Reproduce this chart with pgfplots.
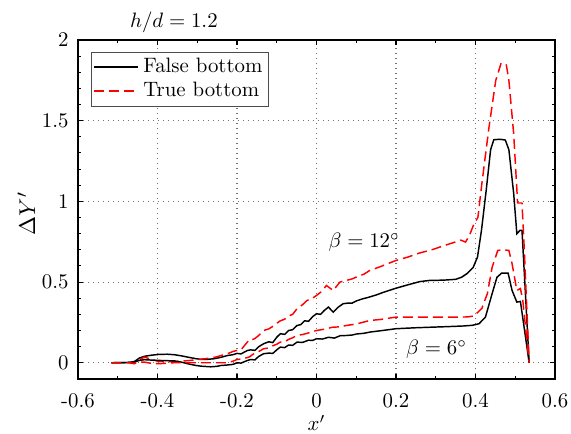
\documentclass[border=0pt]{standalone}
\usepackage{pgfplots}
\pgfplotsset{compat=1.18}
\usetikzlibrary{calc}
\begin{document}
\begin{tikzpicture}
\begin{axis}[
  scale only axis,
  width=229pt, height=162.7pt,
  xmin=-0.6, xmax=0.6, ymin=-0.1, ymax=2,
  xtick={-0.6,-0.4,-0.2,0,0.2,0.4,0.6},
  xticklabels={-0.6,-0.4,-0.2,0,0.2,0.4,0.6},
  ytick={0,0.5,1,1.5,2},
  yticklabels={0,0.5,1,1.5,2},
  minor x tick num=1, minor y tick num=4,
  tick align=inside,
  major tick length=2.4pt, minor tick length=1.5pt,
  tick style={black, line width=0.5pt},
  axis line style={black, line width=0.6pt},
  grid=major,
  major grid style={dotted, black!55, line width=0.5pt},
  xticklabel style={yshift=-3.4pt},
  yticklabel style={xshift=-1pt},
  every axis x label/.style={at={(axis description cs:0.5,0)}, anchor=center, yshift=-21.1pt},
  every axis y label/.style={at={(axis description cs:-0.108,0.488)}, rotate=90, anchor=center},
  xlabel={$x'$},
  ylabel={\fontsize{11}{13}\selectfont$\Delta Y'$},
  legend style={at={(axis description cs:0,1)}, anchor=north west, xshift=6.1pt, yshift=-5.6pt,
    draw=black!70, line width=0.5pt, inner sep=1pt, row sep=-1pt, font=\normalsize},
  legend cell align=left,
  legend image code/.code={\draw[#1] plot coordinates {(0cm,0cm) (0.75cm,0cm)};},
  clip=false,
]
\addplot[black, line width=0.7pt] coordinates {
(-0.516,0) (-0.47,0.002) (-0.458,0.008) (-0.445,0.03) (-0.433,0.04) (-0.415,0.047) (-0.396,0.052) (-0.375,0.053) (-0.358,0.05) (-0.34,0.043) (-0.324,0.035) (-0.305,0.026) (-0.291,0.021) (-0.275,0.021) (-0.258,0.025) (-0.24,0.034) (-0.224,0.045) (-0.21,0.05) (-0.2,0.058) (-0.19,0.055) (-0.174,0.076) (-0.166,0.08) (-0.155,0.077) (-0.145,0.1) (-0.133,0.118) (-0.12,0.13) (-0.11,0.125) (-0.1,0.158) (-0.091,0.18) (-0.08,0.176) (-0.07,0.2) (-0.06,0.205) (-0.049,0.231) (-0.04,0.236) (-0.03,0.26) (-0.02,0.257) (-0.01,0.285) (0,0.304) (0.01,0.3) (0.02,0.325) (0.03,0.345) (0.042,0.314) (0.055,0.345) (0.067,0.366) (0.08,0.37) (0.09,0.37) (0.1,0.383) (0.117,0.397) (0.13,0.405) (0.15,0.42) (0.17,0.438) (0.2,0.462) (0.23,0.483) (0.26,0.503) (0.284,0.51) (0.32,0.512) (0.35,0.517) (0.365,0.53) (0.379,0.553) (0.394,0.59) (0.405,0.655) (0.415,0.82) (0.427,1.07) (0.438,1.32) (0.446,1.382) (0.462,1.385) (0.475,1.38) (0.484,1.32) (0.496,1.05) (0.504,0.80) (0.512,0.82) (0.517,0.82) (0.535,0)
};
\addlegendentry{False bottom}
\addplot[red, line width=0.7pt, dash pattern=on 4.8pt off 2.4pt] coordinates {
(-0.516,0) (-0.47,0.0) (-0.458,-0.006) (-0.445,0.02) (-0.433,0.035) (-0.42,0.025) (-0.4,0.01) (-0.38,0.006) (-0.35,0.008) (-0.32,0.014) (-0.3,0.02) (-0.28,0.025) (-0.254,0.035) (-0.24,0.045) (-0.224,0.056) (-0.21,0.07) (-0.2,0.076) (-0.19,0.08) (-0.17,0.14) (-0.166,0.138) (-0.155,0.15) (-0.145,0.17) (-0.133,0.2) (-0.12,0.21) (-0.11,0.225) (-0.1,0.245) (-0.091,0.26) (-0.08,0.27) (-0.07,0.29) (-0.06,0.3) (-0.049,0.335) (-0.035,0.36) (-0.024,0.386) (-0.01,0.4) (0,0.417) (0.012,0.44) (0.025,0.479) (0.042,0.448) (0.059,0.5) (0.075,0.51) (0.09,0.52) (0.1,0.531) (0.12,0.55) (0.134,0.572) (0.16,0.595) (0.2,0.634) (0.23,0.655) (0.259,0.68) (0.29,0.7) (0.32,0.725) (0.345,0.745) (0.363,0.76) (0.375,0.748) (0.385,0.79) (0.396,0.86) (0.406,0.90) (0.416,1.11) (0.434,1.46) (0.451,1.75) (0.464,1.853) (0.477,1.853) (0.484,1.75) (0.496,1.42) (0.506,0.99) (0.517,0.99) (0.522,0.74) (0.535,0)
};
\addlegendentry{True bottom}
\addplot[black, line width=0.7pt, forget plot] coordinates {
(-0.516,0) (-0.47,0.002) (-0.458,0.005) (-0.445,0.015) (-0.433,0.019) (-0.41,0.016) (-0.38,0.013) (-0.358,0.012) (-0.34,0.004) (-0.324,-0.006) (-0.305,-0.016) (-0.291,-0.021) (-0.266,-0.025) (-0.25,-0.022) (-0.241,-0.017) (-0.225,-0.014) (-0.21,-0.01) (-0.2,0.0) (-0.19,-0.002) (-0.174,0.014) (-0.166,0.02) (-0.155,0.018) (-0.145,0.04) (-0.133,0.056) (-0.12,0.06) (-0.11,0.058) (-0.1,0.08) (-0.091,0.097) (-0.08,0.094) (-0.07,0.11) (-0.06,0.108) (-0.049,0.128) (-0.035,0.126) (-0.02,0.14) (-0.01,0.138) (0,0.149) (0.015,0.147) (0.03,0.158) (0.045,0.153) (0.06,0.168) (0.075,0.169) (0.09,0.172) (0.1,0.178) (0.12,0.183) (0.134,0.19) (0.16,0.198) (0.2,0.211) (0.25,0.217) (0.284,0.22) (0.33,0.224) (0.37,0.228) (0.392,0.232) (0.409,0.242) (0.425,0.283) (0.442,0.43) (0.454,0.53) (0.466,0.556) (0.482,0.556) (0.492,0.448) (0.504,0.376) (0.513,0.38) (0.535,0)
};
\addplot[red, line width=0.7pt, dash pattern=on 4.8pt off 2.4pt, forget plot] coordinates {
(-0.516,0) (-0.47,0.0) (-0.458,-0.004) (-0.445,0.005) (-0.433,0.004) (-0.41,-0.006) (-0.38,-0.004) (-0.36,0.0) (-0.31,0.0) (-0.27,0.0) (-0.224,0.0) (-0.21,0.01) (-0.2,0.02) (-0.185,0.025) (-0.17,0.035) (-0.155,0.06) (-0.145,0.07) (-0.133,0.087) (-0.12,0.092) (-0.11,0.105) (-0.1,0.115) (-0.091,0.128) (-0.08,0.13) (-0.07,0.145) (-0.06,0.155) (-0.049,0.169) (-0.035,0.175) (-0.02,0.185) (0,0.2) (0.02,0.208) (0.04,0.22) (0.06,0.223) (0.075,0.231) (0.1,0.24) (0.134,0.262) (0.16,0.268) (0.2,0.283) (0.25,0.283) (0.3,0.283) (0.359,0.283) (0.38,0.284) (0.396,0.29) (0.416,0.337) (0.43,0.43) (0.442,0.593) (0.456,0.696) (0.47,0.7) (0.484,0.696) (0.492,0.614) (0.504,0.448) (0.513,0.46) (0.519,0.386) (0.535,0)
};
\node at (axis cs:0.12,0.745) {$\beta=12^\circ$};
\node at (axis cs:0.302,0.082) {$\beta=6^\circ$};
\node at (axis description cs:0.201,1) [yshift=8.4pt] {$h/d=1.2$};
\end{axis}
\pgfresetboundingbox
\path[use as bounding box] ($(current axis.south west)+(-37.44pt,-26.4pt)$) rectangle ($(current axis.north east)+(7.68pt,19.2pt)$);
\end{tikzpicture}
\end{document}
